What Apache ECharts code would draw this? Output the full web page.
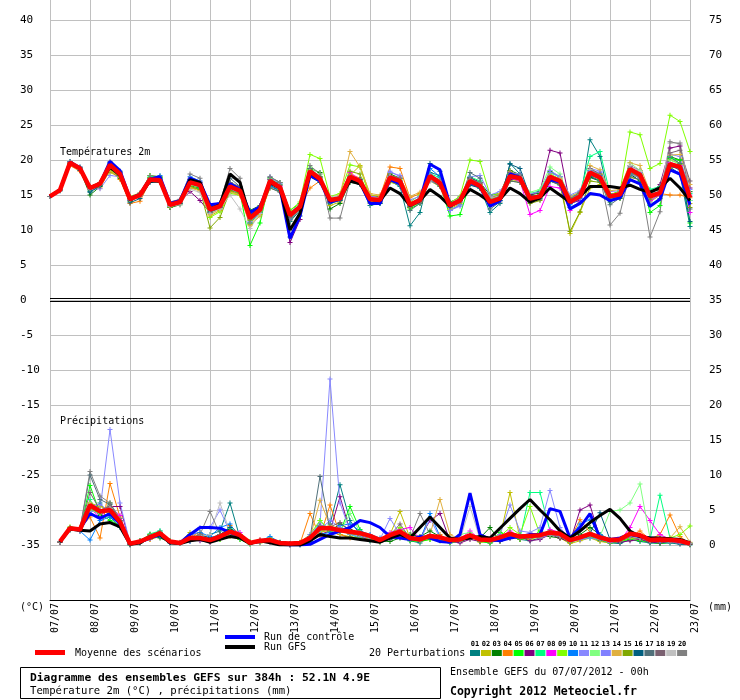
<!DOCTYPE html>
<html>
<head>
<meta charset="utf-8">
<script src="https://cdn.jsdelivr.net/npm/echarts@6/dist/echarts.min.js"></script>
<style>
html, body { margin: 0; padding: 0; background: #fff; }
#main { width: 740px; height: 700px; }
</style>
</head>
<body>
<div id="main"></div>
<script>
// x axis: one tick per day, data every 6 h (0..384 h)
const days = ['07/07', '08/07', '09/07', '10/07', '11/07', '12/07', '13/07', '14/07', '15/07',
  '16/07', '17/07', '18/07', '19/07', '20/07', '21/07', '22/07', '23/07'];
const memberNames = ['01', '02', '03', '04', '05', '06', '07', '08', '09', '10',
  '11', '12', '13', '14', '15', '16', '17', '18', '19', '20'];
const memberColors = ['#008080', '#c0c000', '#008000', '#ff8000', '#00ff00', '#800080', '#00ff80', '#ff00ff', '#80ff00', '#0080ff',
  '#8888ff', '#80ff80', '#8080ff', '#e0b040', '#80a800', '#005f7f', '#50707a', '#7a6070', '#c0c0c0', '#808080'];

// 2m temperature (°C), 65 values from +0h
const tempMean = [14.8,15.7,19.6,18.8, 16.0,16.6,19.3,18.0, 14.4,15.0,17.2,17.1, 13.6,14.0,16.8,16.4, 12.9,13.4,16.2,15.6, 11.7,12.9,17.0,16.1, 12.1,13.3,18.4,17.3, 14.3,14.5,17.6,17.0, 14.4,14.3,17.5,17.0, 13.6,14.3,17.7,16.7, 13.5,14.2,17.0,16.3, 14.0,14.5,17.7,17.4, 14.5,14.8,17.6,17.0, 14.0,14.8,18.2,17.5, 14.8,15.1,18.7,17.9, 14.8,15.3,19.4,19.0, 14.6];
const tempCtrl = [14.8,15.7,19.7,18.9, 16.0,16.6,19.8,18.5, 14.5,15.1,17.3,17.6, 13.8,14.2,17.4,16.8, 13.6,13.8,16.6,15.8, 12.5,13.3,16.8,16.0, 8.8,12.0,17.8,17.0, 14.0,14.4,17.4,16.8, 13.8,13.8,17.2,16.6, 13.6,14.2,19.4,18.6, 13.6,14.2,16.8,16.2, 13.4,14.2,18.0,17.5, 14.2,14.6,17.2,16.8, 13.0,13.8,15.2,15.0, 14.2,14.6,17.2,16.6, 13.4,14.4,18.6,18.0, 13.6];
const tempGfs = [14.8,15.7,19.6,18.8, 16.0,16.6,19.0,17.8, 14.3,15.0,17.0,17.0, 13.6,14.0,17.2,16.8, 13.0,13.6,18.0,16.8, 11.8,13.0,16.8,16.0, 10.0,12.4,18.2,17.2, 14.2,14.6,17.0,16.6, 14.4,14.2,16.0,15.2, 13.5,14.2,15.8,14.8, 13.4,14.2,15.8,15.0, 14.0,14.4,16.0,15.2, 14.0,14.6,16.0,15.0, 14.0,14.8,16.2,16.2, 16.2,16.0,16.4,15.8, 15.4,16.0,17.4,16.0, 14.2];
const tempPert = [
  [14.8,15.6,19.5,18.7, 15.5,16.4,19.0,17.8, 14.2,14.9,17.0,17.1, 13.3,13.8,16.5,16.2, 12.4,13.0,16.8,16.0, 11.0,12.5,16.5,15.8, 11.2,12.8,18.0,17.5, 13.8,14.2,17.2,16.5, 13.5,13.8,17.0,16.2, 10.6,12.5,18.2,17.8, 12.8,13.6,17.5,16.0, 12.5,13.8,19.5,18.0, 14.0,14.5,17.0,16.5, 13.2,14.0,22.9,20.5, 14.0,14.8,18.0,17.0, 13.5,14.5,19.0,18.0, 10.5],
  [14.8,15.8,19.7,18.9, 16.2,16.8,18.2,17.6, 14.8,15.3,17.5,17.3, 14.0,14.3,16.0,15.8, 12.0,12.8,15.5,15.0, 10.8,12.2,16.0,15.5, 11.5,13.0,17.8,17.0, 13.5,14.0,17.8,19.2, 15.0,14.8,16.8,16.5, 13.8,14.6,17.0,16.2, 13.0,13.8,16.5,16.0, 13.8,14.2,17.2,17.0, 14.2,14.6,17.8,17.2, 9.5,12.5,16.0,16.5, 15.0,15.5,17.5,17.2, 14.0,15.0,20.0,19.5, 13.8],
  [14.8,15.7,19.4,18.6, 15.0,16.2,18.5,17.4, 14.1,15.1,17.4,17.5, 13.2,13.6,16.3,16.0, 13.0,13.2,15.6,15.4, 12.8,13.5,17.5,16.8, 12.5,13.6,18.8,18.2, 13.0,13.8,16.8,16.6, 14.6,14.8,18.0,17.4, 13.2,14.0,17.2,16.6, 14.0,14.6,17.5,16.8, 15.0,15.2,18.5,17.9, 15.0,15.3,18.4,17.6, 14.5,15.2,17.5,17.0, 14.2,14.5,18.0,17.0, 15.5,16.0,20.5,20.0, 15.5],
  [14.8,15.7,19.2,18.4, 15.8,16.0,18.6,17.2, 13.8,14.1,17.0,16.8, 13.4,14.0,16.9,16.6, 13.0,13.6,16.0,15.3, 11.5,12.6,16.8,15.8, 12.0,13.2,16.0,17.0, 14.5,14.8,18.0,17.4, 14.2,14.8,19.0,18.8, 14.6,15.2,17.8,16.9, 13.7,14.5,17.2,16.5, 14.2,14.8,18.0,17.6, 14.3,14.9,17.4,17.1, 14.2,15.0,18.5,17.9, 15.2,15.3,18.2,17.6, 14.2,15.2,15.0,15.0, 14.6],
  [14.8,15.8,19.8,18.9, 16.1,16.7,19.0,17.8, 14.5,15.2,17.8,17.4, 13.7,14.2,16.9,16.5, 12.5,13.2,16.0,15.4, 7.8,11.0,17.3,16.5, 12.8,13.8,18.5,17.4, 14.5,14.8,17.5,17.0, 14.0,14.0,17.4,16.9, 13.0,13.8,17.6,16.4, 12.0,12.2,16.7,16.0, 13.5,14.6,17.5,17.2, 14.8,15.0,17.5,16.8, 14.5,15.0,18.0,17.2, 15.0,15.6,18.8,18.2, 12.5,13.5,20.2,20.0, 11.0],
  [14.8,15.7,19.6,18.7, 16.0,16.5,19.2,17.9, 14.3,15.0,17.0,16.9, 13.5,14.0,15.5,14.2, 12.5,13.2,16.2,15.8, 12.0,13.3,17.3,16.4, 8.2,11.5,18.2,17.0, 14.0,14.4,17.5,16.8, 14.5,14.0,17.2,16.8, 13.3,14.0,17.5,16.5, 13.4,14.3,17.4,16.8, 14.0,14.8,17.2,17.3, 15.0,15.5,21.4,21.0, 13.8,14.2,17.8,17.4, 15.0,15.3,19.2,18.5, 15.2,16.5,21.7,22.0, 16.0],
  [14.8,15.6,19.5,18.8, 16.0,16.6,19.4,18.1, 14.5,15.0,17.6,17.6, 13.8,14.2,16.6,16.0, 12.8,13.4,16.5,15.8, 11.0,12.6,17.0,16.0, 12.0,13.1,18.6,17.6, 14.5,14.6,17.8,17.3, 14.8,14.6,17.6,17.0, 13.7,14.5,18.0,17.5, 13.8,14.5,17.6,17.0, 14.2,14.5,18.0,17.2, 15.2,15.6,18.2,17.6, 14.8,15.4,20.5,21.2, 15.2,15.2,18.8,18.0, 15.8,16.2,20.5,19.5, 15.2],
  [14.8,15.7,19.6,18.8, 16.0,16.6,19.3,18.0, 14.4,15.0,17.1,17.2, 13.7,14.1,17.2,16.6, 13.0,13.5,16.4,15.7, 11.8,13.0,17.2,16.2, 12.2,13.4,18.3,17.4, 14.4,14.8,18.2,17.2, 14.8,14.6,17.4,16.8, 13.8,14.4,17.6,16.6, 13.6,14.0,16.8,16.2, 14.2,14.6,17.4,17.0, 12.2,12.8,16.2,16.0, 12.8,14.0,18.2,17.4, 14.6,15.0,18.5,17.6, 14.2,15.0,19.6,19.2, 12.5],
  [14.8,15.8,19.6,18.8, 16.2,16.8,18.6,17.6, 14.6,15.2,17.8,17.6, 13.9,14.2,16.2,15.8, 11.8,12.6,15.2,15.0, 12.0,13.0,16.6,16.0, 12.8,14.0,20.8,20.2, 14.8,15.2,19.3,19.0, 14.5,14.3,17.8,17.2, 14.0,15.0,17.4,16.8, 13.9,14.8,20.0,19.8, 15.0,15.2,18.0,17.6, 14.6,15.0,18.0,17.3, 14.3,15.0,18.6,18.0, 15.0,15.5,24.0,23.6, 18.8,19.5,26.4,25.5, 21.2],
  [14.8,15.7,19.8,19.0, 16.1,16.7,19.6,18.2, 14.4,15.1,17.3,17.8, 13.6,14.0,17.6,17.0, 13.4,13.8,16.4,15.5, 12.0,13.2,16.2,15.6, 11.5,13.0,18.0,17.0, 14.2,14.6,17.4,16.8, 14.3,14.2,17.6,17.4, 13.5,14.2,18.8,17.6, 13.2,14.0,16.6,16.0, 13.8,14.2,17.8,17.6, 14.6,14.8,17.2,16.8, 13.6,14.5,18.5,17.8, 14.4,14.8,18.4,17.6, 14.8,15.5,19.2,18.8, 14.2],
  [14.8,15.6,19.4,18.6, 15.8,15.9,17.8,17.6, 14.2,14.9,17.0,17.0, 13.4,13.9,17.4,16.9, 13.2,13.6,15.8,15.2, 11.2,12.4,16.6,16.0, 11.8,13.2,17.6,17.0, 14.0,14.3,17.0,16.6, 14.0,14.0,18.2,17.8, 13.8,14.6,17.0,16.4, 12.8,13.6,16.6,16.2, 14.8,15.0,18.2,18.0, 15.2,15.4,18.5,17.6, 15.0,15.6,18.8,18.4, 15.5,15.6,19.0,18.2, 14.0,15.2,20.8,20.5, 15.0],
  [14.8,15.7,19.5,18.7, 16.0,16.5,19.0,17.9, 14.4,15.1,17.4,17.2, 13.5,14.0,16.4,16.2, 12.6,13.3,16.0,15.5, 11.4,12.8,17.4,16.6, 12.4,13.5,19.0,18.0, 14.6,14.8,17.2,16.9, 14.1,14.5,17.3,16.6, 13.4,14.2,17.5,16.8, 13.6,14.4,17.2,16.4, 14.4,14.8,17.6,17.4, 15.4,15.8,19.0,18.0, 14.2,15.0,17.8,17.0, 14.5,15.0,19.6,18.5, 14.8,15.6,20.0,19.4, 14.2],
  [14.8,15.7,19.7,18.9, 16.0,16.6,19.5,18.3, 14.5,15.2,17.3,17.2, 13.8,14.2,17.0,16.6, 12.8,13.2,16.6,16.0, 12.2,13.4,17.6,16.6, 12.6,13.6,18.2,17.2, 14.2,14.6,17.6,17.1, 14.8,14.5,18.4,17.6, 14.3,14.8,18.0,17.0, 12.8,13.4,17.6,17.8, 15.0,15.5,17.8,17.4, 14.2,14.6,18.2,17.6, 14.2,15.2,18.4,18.2, 14.4,15.0,18.0,17.4, 14.8,15.2,19.0,18.8, 15.8],
  [14.8,15.7,19.6,18.8, 16.2,16.4,18.4,17.6, 14.6,15.0,17.2,17.0, 13.6,14.0,16.0,15.6, 12.2,13.0,15.4,15.0, 10.6,12.0,16.4,15.8, 12.4,13.6,18.4,17.4, 14.4,15.0,21.2,19.0, 15.2,15.0,17.8,17.4, 14.8,15.4,17.6,17.0, 13.8,14.4,17.0,16.4, 14.5,15.2,18.4,17.6, 14.4,14.8,17.6,17.4, 14.8,15.4,19.2,18.6, 15.6,15.8,19.6,19.2, 15.4,16.0,20.7,20.8, 16.5],
  [14.8,15.7,19.5,18.6, 15.9,16.6,19.0,17.7, 14.4,15.0,17.5,17.4, 13.2,13.8,16.2,15.8, 10.3,11.8,15.6,15.2, 11.4,12.8,16.8,15.8, 12.2,13.4,18.6,17.6, 14.2,14.6,18.4,18.0, 14.0,14.2,17.2,16.6, 13.2,14.0,17.4,16.4, 13.4,14.0,17.0,16.6, 14.6,15.0,17.0,16.8, 13.8,14.2,17.0,16.5, 9.8,12.6,17.0,16.8, 14.4,14.6,18.2,17.6, 14.4,15.4,18.8,19.4, 13.2],
  [14.8,15.7,19.4,18.5, 15.4,16.3,19.6,18.4, 13.9,14.5,16.8,16.9, 13.4,13.8,16.8,16.3, 12.6,13.3,16.6,15.9, 12.4,13.2,16.4,15.6, 9.0,12.0,17.6,16.8, 14.0,14.2,17.6,17.2, 14.4,13.8,17.0,16.6, 13.4,14.2,19.5,18.4, 13.6,14.2,16.4,16.0, 13.6,14.2,19.4,18.8, 14.8,15.0,17.4,16.8, 14.0,14.6,17.6,17.0, 14.6,14.8,18.4,17.8, 15.2,15.4,19.2,18.6, 11.2],
  [14.8,15.7,19.6,18.9, 16.0,16.4,19.0,17.8, 14.3,15.1,17.0,17.0, 13.6,14.0,17.2,16.8, 13.4,13.8,17.4,16.2, 11.8,13.0,16.0,15.4, 12.0,13.2,18.8,17.6, 14.4,14.4,17.4,16.8, 14.6,14.4,17.2,16.6, 12.8,13.8,17.2,16.2, 13.6,14.2,18.2,17.4, 13.0,14.0,17.0,16.8, 14.0,14.4,17.0,16.4, 14.4,15.4,17.8,17.0, 13.6,14.6,17.6,17.2, 14.6,15.0,20.4,19.5, 13.0],
  [14.8,15.7,19.7,18.8, 16.1,16.7,19.2,18.2, 14.5,15.0,17.4,17.2, 13.7,14.1,17.2,16.8, 13.2,13.6,16.8,16.2, 11.6,12.9,17.2,16.4, 11.8,13.0,18.0,17.2, 14.0,14.4,17.4,17.0, 14.2,14.4,17.8,17.4, 13.4,14.2,17.4,16.6, 13.4,14.4,17.4,16.6, 14.4,14.6,18.2,17.8, 14.8,15.0,17.8,17.0, 14.6,15.2,18.8,18.0, 14.8,15.4,19.0,18.0, 15.2,16.0,21.0,21.4, 17.0],
  [14.8,15.7,19.6,18.7, 16.0,16.6,19.3,18.0, 14.4,15.0,17.2,17.2, 13.4,13.6,15.8,15.4, 12.4,13.0,15.0,13.0, 10.2,12.4,16.6,16.0, 12.4,13.6,18.4,17.0, 14.8,14.8,17.6,17.0, 14.6,14.6,17.6,17.0, 13.8,14.4,17.2,16.8, 13.8,14.6,17.0,16.4, 14.6,14.8,17.8,17.6, 14.6,15.0,17.8,17.2, 14.2,14.6,18.6,17.6, 15.0,15.4,19.2,18.4, 15.0,15.6,22.4,22.5, 15.4],
  [14.8,15.7,19.7,19.0, 16.2,16.8,19.8,18.4, 14.6,15.3,17.8,17.6, 14.0,14.4,18.0,17.4, 13.5,13.9,18.8,17.4, 11.0,12.8,17.6,16.8, 11.4,13.0,19.2,18.0, 11.7,11.7,17.0,16.6, 13.8,14.0,17.4,17.0, 13.5,14.0,17.8,17.2, 13.8,14.4,17.2,16.8, 14.4,14.8,18.0,17.6, 14.5,14.8,17.6,16.8, 14.6,15.0,18.0,17.6, 10.7,12.4,18.2,17.4, 9.0,12.6,22.6,22.3, 14.8]
];

// 6-hourly precipitation (mm), 64 values from +6h
const precipMean = [0.5,2.4,2.2,5.7,4.8,5.0,3.3,0.2, 0.5,1.1,1.7,0.5,0.3,1.0,1.0,0.7, 1.2,1.9,1.4,0.3,0.6,0.7,0.3,0.2, 0.3,1.0,2.4,2.4,2.1,1.9,1.7,1.3, 0.7,1.4,1.9,1.0,0.8,1.3,1.1,0.7, 0.8,1.4,0.8,0.7,1.1,1.6,1.2,1.3, 1.4,1.8,1.6,0.7,1.1,1.6,1.1,0.7, 0.8,1.6,1.4,0.7,0.8,0.7,0.6,0.2];
const precipCtrl = [0.5,2.4,2.3,4.5,3.8,4.5,3.0,0.2, 0.4,1.0,1.5,0.4,0.3,1.5,2.5,2.5, 2.4,1.8,1.2,0.3,0.5,0.6,0.1,0.0, 0.0,0.1,0.8,1.5,2.0,2.5,3.5,3.2, 2.5,1.2,1.0,0.8,1.2,1.0,0.5,0.4, 1.5,7.4,1.5,0.8,0.6,1.0,1.2,1.5, 1.5,5.2,4.8,1.0,2.5,4.5,1.0,0.8, 1.0,1.5,1.2,1.0,0.9,0.8,0.6,0.3];
const precipGfs = [0.4,2.3,2.1,2.0,3.0,3.2,2.6,0.1, 0.3,1.2,1.5,0.3,0.2,0.6,0.8,0.4, 0.8,1.2,1.0,0.2,0.6,0.3,0.0,0.0, 0.0,0.6,1.5,1.2,1.0,1.0,0.8,0.6, 0.4,1.0,1.5,1.0,2.5,4.0,2.5,1.0, 0.8,1.0,1.2,1.0,2.4,3.8,5.2,6.5, 5.0,3.6,2.0,1.0,2.0,3.2,4.2,5.1, 3.8,2.0,1.2,1.0,1.0,0.9,0.8,0.3];
const precipPert = [
  [0.4,2.1,2.0,4.5,6.0,4.0,2.5,0.1, 0.6,1.3,2.0,0.5,0.2,0.5,1.0,1.5, 2.0,6.0,1.0,0.2,0.4,0.5,0.2,0.1, 0.0,0.5,1.5,3.0,8.6,3.5,1.5,0.8, 0.5,0.8,1.2,0.6,0.3,1.5,0.8,0.3, 0.5,1.0,0.6,0.3,0.8,1.5,0.8,0.6, 1.0,1.8,1.2,0.4,0.8,1.2,0.6,0.3, 0.2,0.8,0.5,0.3,0.2,0.3,0.1,0.0],
  [0.5,2.5,2.2,6.0,5.5,5.0,3.0,0.2, 0.4,0.8,1.2,0.3,0.4,1.8,0.8,0.5, 0.8,1.2,0.8,0.2,0.3,0.6,0.2,0.0, 0.2,1.2,2.0,1.8,1.5,1.2,1.0,0.8, 0.5,1.5,4.8,1.0,0.5,0.8,0.6,0.4, 0.5,1.2,0.4,0.5,1.2,7.5,1.0,0.8, 1.2,2.0,1.0,0.2,0.6,1.0,0.5,0.3, 0.5,1.0,0.8,0.5,0.4,0.6,0.3,0.1],
  [0.5,2.2,2.4,5.5,4.2,6.0,3.5,0.0, 0.3,1.5,1.0,0.4,0.2,0.8,1.2,0.6, 1.5,2.2,1.5,0.4,0.5,0.8,0.3,0.2, 0.3,0.8,2.5,2.0,3.0,2.2,1.5,1.0, 0.6,0.5,1.0,1.5,1.2,2.0,1.2,0.8, 0.6,1.5,1.0,2.5,0.5,1.0,1.5,1.0, 1.5,1.2,1.0,0.5,1.5,2.5,1.5,0.8, 0.6,1.2,1.0,0.6,0.8,0.5,0.4,0.2],
  [0.4,2.4,2.3,4.0,1.0,8.8,4.0,0.3, 0.4,0.8,1.5,0.6,0.3,1.2,1.8,0.8, 1.0,2.8,1.5,0.2,0.8,0.6,0.3,0.2, 0.2,4.5,1.2,5.7,1.5,1.0,1.2,0.8, 0.4,1.0,1.2,0.8,0.6,1.0,1.5,0.5, 0.8,1.0,0.6,0.4,1.0,1.5,0.8,1.5, 1.0,1.5,1.2,0.8,3.6,1.8,0.8,0.5, 0.8,1.2,2.0,0.8,1.5,4.3,1.2,0.2],
  [0.5,2.3,2.0,8.5,4.5,3.5,2.8,0.2, 0.6,1.2,1.6,0.5,0.2,0.6,0.9,0.6, 0.8,1.5,0.8,0.1,0.5,0.9,0.4,0.1, 0.1,1.0,2.2,2.5,1.8,5.5,2.2,1.0, 0.6,1.2,1.5,0.6,0.5,0.8,0.6,0.4, 0.6,1.0,0.5,0.3,1.8,1.2,0.8,1.0, 2.0,1.5,1.8,0.6,1.0,1.2,0.8,0.3, 0.5,0.8,0.6,0.4,0.2,0.4,0.3,0.1],
  [0.4,2.2,2.1,5.0,4.5,5.5,5.5,0.2, 0.4,1.0,1.4,0.4,0.2,0.8,0.6,0.4, 1.0,1.6,1.2,0.3,0.5,0.4,0.2,0.0, 0.1,0.5,1.5,2.0,6.9,2.0,1.2,0.6, 0.8,1.0,2.0,0.8,1.0,3.5,4.5,0.6, 0.3,0.8,0.5,0.5,0.6,1.0,1.2,0.6, 0.8,1.5,1.0,0.4,5.0,5.7,1.0,0.5, 0.4,0.6,0.8,0.4,0.3,0.5,0.2,0.1],
  [0.5,2.4,2.5,6.5,4.0,4.5,3.5,0.2, 0.5,1.6,2.0,0.5,0.3,1.2,1.0,0.8, 1.2,2.4,1.2,0.4,0.6,0.8,0.3,0.1, 0.2,0.8,3.5,2.0,2.4,1.5,1.0,0.6, 0.4,1.5,1.8,0.8,0.6,1.2,0.8,0.5, 0.8,1.4,1.0,0.6,0.8,1.8,1.0,7.5, 7.5,2.0,1.5,0.6,0.8,1.0,0.8,0.5, 0.6,1.5,1.0,0.8,7.1,1.0,0.5,0.2],
  [0.4,2.3,2.0,5.2,4.0,5.5,4.2,0.1, 0.5,1.0,1.8,0.4,0.3,0.7,0.9,0.5, 1.0,2.0,1.8,0.2,0.7,0.8,0.2,0.1, 0.2,1.2,2.8,2.5,2.2,1.8,1.6,1.2, 0.6,1.8,2.2,2.5,0.8,1.5,1.0,0.6, 0.8,2.0,0.8,0.6,1.2,2.0,1.2,1.0, 1.2,2.2,1.8,0.5,0.8,1.5,1.0,0.4, 0.6,2.5,5.5,3.5,1.5,0.8,0.5,0.2],
  [0.5,2.6,2.4,5.8,5.0,4.6,3.0,0.2, 0.5,1.2,1.8,0.6,0.3,1.0,1.2,0.8, 1.2,1.8,1.5,0.5,0.5,1.0,0.3,0.2, 0.4,1.5,3.5,2.0,2.0,1.6,1.5,1.0, 0.6,1.5,2.5,1.2,0.8,1.5,1.0,0.5, 0.6,1.2,0.6,0.8,1.2,2.5,1.5,5.5, 1.5,1.5,1.2,0.4,1.0,1.5,1.0,0.5, 0.5,1.0,1.0,0.6,0.8,1.0,1.5,2.7],
  [0.5,2.2,2.0,0.7,3.5,4.0,3.0,0.2, 0.4,1.0,1.2,0.3,0.2,1.5,1.8,1.2, 2.5,3.0,1.0,0.3,0.6,1.2,0.4,0.2, 0.2,0.5,1.5,1.8,2.8,3.0,2.0,1.5, 1.0,1.2,1.6,0.8,0.6,4.5,1.2,0.5, 0.6,1.0,0.6,0.5,0.8,1.2,1.0,1.2, 1.5,1.8,1.5,1.0,3.0,3.6,1.5,0.8, 0.6,1.5,1.2,0.6,0.5,0.6,0.4,0.2],
  [0.4,2.3,2.2,4.8,5.0,16.5,6.0,0.3, 0.4,1.0,1.5,0.4,0.2,0.8,2.5,2.5, 5.0,1.8,1.0,0.2,0.5,0.6,0.3,0.1, 0.2,1.5,3.0,23.7,6.0,2.0,1.5,1.2, 0.8,3.8,1.5,1.0,0.8,1.2,0.8,0.6, 0.8,1.5,0.8,0.6,1.5,5.7,2.0,1.8, 2.5,7.8,2.5,0.8,1.0,1.5,1.0,0.6, 0.8,1.2,1.0,0.6,0.6,0.4,0.3,0.2],
  [0.5,2.4,2.2,5.0,4.5,5.2,3.2,0.2, 0.6,1.4,1.8,0.6,0.3,0.8,1.0,0.6, 1.0,1.6,1.2,0.3,0.6,0.7,0.2,0.1, 0.2,0.8,2.0,2.2,1.8,4.5,1.8,1.0, 0.6,1.2,1.6,0.8,0.6,1.2,1.0,0.6, 1.5,1.8,0.8,0.6,1.0,1.5,1.2,1.2, 1.2,1.6,1.5,0.6,1.0,1.8,1.2,4.8, 5.0,6.0,8.7,1.0,0.8,0.6,0.5,0.3],
  [0.5,2.2,2.0,5.5,5.8,4.8,3.0,0.1, 0.4,1.1,1.5,0.5,0.2,0.5,0.8,0.5, 1.2,1.5,1.4,0.3,0.4,0.8,0.2,0.0, 0.1,0.8,2.2,3.5,2.5,1.5,1.2,1.0, 0.5,1.0,1.5,0.8,0.6,3.8,1.0,0.5, 0.6,1.2,0.8,0.5,0.8,1.5,1.0,1.2, 1.0,1.5,1.2,0.5,0.8,1.0,0.8,0.4, 0.6,1.2,1.0,0.5,0.6,0.8,0.4,0.2],
  [0.5,2.5,2.4,6.0,5.0,5.5,3.8,0.2, 0.5,1.2,1.6,0.5,0.3,1.0,1.2,0.7, 1.4,1.8,1.2,0.3,0.5,0.6,0.2,0.1, 0.2,1.0,6.4,2.8,2.2,1.8,1.5,1.2, 0.8,1.5,2.0,1.0,0.8,1.5,6.5,1.5, 0.8,1.0,0.6,0.5,1.0,1.6,1.0,1.2, 1.2,1.5,1.4,0.6,1.0,1.4,0.8,0.6, 0.8,1.4,1.2,0.8,0.8,1.0,2.6,0.4],
  [0.4,2.2,2.1,5.2,4.6,5.0,3.2,0.2, 0.6,1.5,1.8,0.6,0.3,0.8,1.0,0.6, 1.0,1.4,1.2,0.2,0.6,0.8,0.3,0.1, 0.3,1.0,2.5,2.6,2.0,1.6,1.4,1.0, 0.6,1.4,1.8,0.8,0.6,1.2,1.0,0.5, 0.8,1.2,0.6,0.5,1.0,1.8,1.0,1.2, 1.4,1.6,1.4,0.6,1.2,1.5,1.0,0.6, 0.6,1.2,1.0,0.6,0.8,0.8,0.5,0.2],
  [0.5,2.3,2.2,5.5,4.8,5.0,3.4,0.1, 0.5,1.2,1.6,0.5,0.3,0.9,1.5,1.0, 1.5,2.5,1.2,0.3,0.6,0.6,0.2,0.1, 0.2,1.2,2.6,2.2,2.0,1.8,1.6,1.2, 0.7,1.2,1.6,0.9,0.7,1.2,1.0,0.6, 0.8,1.4,0.8,0.6,1.0,1.5,1.2,1.2, 1.2,1.6,1.5,0.6,1.2,1.6,4.6,0.8, 0.6,1.2,1.0,0.5,0.6,0.8,0.4,0.2],
  [0.5,2.4,2.3,10.0,6.5,5.8,3.5,0.2, 0.5,1.3,1.8,0.5,0.2,0.7,1.0,0.6, 1.2,1.7,1.3,0.3,0.5,0.6,0.2,0.1, 0.2,1.0,9.8,2.2,2.0,1.8,1.5,1.0, 0.6,1.3,1.8,0.8,0.6,1.2,0.9,0.5, 0.7,1.3,0.7,0.5,0.9,1.6,1.1,1.3, 1.3,1.7,1.5,0.6,1.1,1.5,1.0,0.6, 0.7,1.3,1.1,0.6,0.7,0.7,0.5,0.2],
  [0.4,2.3,2.2,7.5,5.0,5.5,3.0,0.1, 0.4,1.1,1.5,0.4,0.3,0.8,1.0,0.6, 1.0,1.5,1.2,0.2,0.5,0.7,0.3,0.1, 0.2,0.9,2.5,2.6,3.2,2.0,1.5,1.2, 0.8,1.4,3.0,1.0,0.7,1.2,1.0,0.5, 0.7,1.2,0.7,0.5,1.0,1.5,1.0,1.1, 1.3,1.5,1.3,0.5,1.0,1.4,0.9,0.5, 0.6,1.1,0.9,0.6,0.7,0.6,0.4,0.2],
  [0.5,2.4,2.2,5.8,5.0,5.2,3.4,0.2, 0.5,1.2,1.6,0.5,0.3,0.9,1.2,1.5, 6.0,1.8,1.2,0.3,0.6,0.7,0.2,0.1, 0.2,1.0,2.4,2.4,2.0,1.8,1.5,1.0, 0.6,1.5,1.8,0.9,0.7,1.4,1.0,0.5, 0.7,5.5,0.8,0.6,1.0,1.6,1.2,1.2, 1.3,1.6,1.4,0.6,1.1,1.5,1.0,0.6, 0.7,1.2,1.0,0.6,0.7,0.7,0.5,0.2],
  [0.5,2.5,2.3,10.5,7.0,6.0,3.8,0.2, 0.6,1.4,1.8,0.6,0.3,1.0,1.5,4.8, 1.5,2.0,1.5,0.4,0.6,0.8,0.3,0.1, 0.3,1.2,2.8,2.6,2.2,2.0,1.6,1.2, 0.8,1.5,2.0,1.0,4.5,1.5,1.2,0.6, 0.8,1.5,0.9,0.7,1.2,1.8,1.4,1.4, 1.5,1.8,1.6,0.7,1.2,1.7,1.2,0.7, 0.8,1.4,1.2,0.7,0.8,0.8,0.5,0.3]
];

var myChart = echarts.init(document.getElementById('main'));
const FONT = '"DejaVu Sans Mono"';
// small filled "+" marker
const plus = 'path://M2,0H3V2H5V3H3V5H2V3H0V2H2Z';

function tempData(arr) { return arr.map((v, i) => [i * 6, v]); }
function precipData(arr) { return arr.map((v, i) => [(i + 1) * 6, v]); }

function thinLine(data, color, yIdx) {
  return {
    type: 'line', xAxisIndex: 1, yAxisIndex: yIdx, data: data,
    symbol: plus, symbolSize: 5, silent: true, z: 2,
    lineStyle: { width: 1, color: color }, itemStyle: { color: color },
    emphasis: { disabled: true }, animation: false
  };
}
function thickLine(data, color, width, yIdx, z) {
  return {
    type: 'line', xAxisIndex: 1, yAxisIndex: yIdx, data: data,
    showSymbol: false, silent: true, z: z,
    lineStyle: { width: width, color: color }, itemStyle: { color: color },
    emphasis: { disabled: true }, animation: false
  };
}

const series = [];
tempPert.forEach((arr, k) => series.push(thinLine(tempData(arr), memberColors[k], 1)));
precipPert.forEach((arr, k) => series.push(thinLine(precipData(arr), memberColors[k], 2)));
series.push(thickLine(tempData(tempCtrl), '#0000ff', 3, 1, 3));
series.push(thickLine(precipData(precipCtrl), '#0000ff', 3, 2, 3));
series.push(thickLine(tempData(tempGfs), '#000000', 3, 1, 4));
series.push(thickLine(precipData(precipGfs), '#000000', 3, 2, 4));
const meanT = thickLine(tempData(tempMean), '#ff0000', 4.5, 1, 5);
// double black line at 0
meanT.markLine = {
  silent: true, symbol: 'none', label: { show: false }, animation: false,
  lineStyle: { color: '#000', width: 1, type: 'solid' },
  data: [{ yAxis: 0.25 }, { yAxis: -0.2 }]
};
series.push(meanT);
series.push(thickLine(precipData(precipMean), '#ff0000', 4.5, 2, 5));

function txt(x, y, text, font, align) {
  return { type: 'text', x: x, y: y, silent: true, z: 10,
    style: { text: text, font: font, fill: '#000', align: align || 'left', verticalAlign: 'middle' } };
}
const f10 = '10px ' + FONT;
const graphics = [
  txt(60, 152, 'Températures 2m', f10),
  txt(60, 421, 'Précipitations', f10),
  txt(20, 607, '(°C)', f10),
  txt(708, 607, '(mm)', f10),
  { type: 'rect', shape: { x: 35, y: 650, width: 30, height: 5 }, style: { fill: '#ff0000' }, silent: true },
  txt(75, 653, 'Moyenne des scénarios', f10),
  { type: 'rect', shape: { x: 225, y: 635, width: 30, height: 4 }, style: { fill: '#0000ff' }, silent: true },
  txt(264, 637, 'Run de contrôle', f10),
  { type: 'rect', shape: { x: 225, y: 645, width: 30, height: 4 }, style: { fill: '#000000' }, silent: true },
  txt(264, 647, 'Run GFS', f10),
  txt(369, 653, '20 Perturbations', f10),
  { type: 'rect', shape: { x: 20.5, y: 667.5, width: 420, height: 31 }, style: { fill: '#fff', stroke: '#000', lineWidth: 1 }, silent: true },
  txt(30, 678, 'Diagramme des ensembles GEFS sur 384h : 52.1N 4.9E', 'bold 11.3px ' + FONT),
  txt(30, 691, 'Température 2m (°C) , précipitations (mm)', '10.6px ' + FONT),
  txt(450, 672, 'Ensemble GEFS du 07/07/2012 - 00h', f10),
  txt(450, 692, 'Copyright 2012 Meteociel.fr', 'bold 11.5px ' + FONT)
];
memberColors.forEach((c, k) => {
  graphics.push({ type: 'rect', shape: { x: 470 + k * 10.9, y: 650, width: 10, height: 6 }, style: { fill: c }, silent: true });
  graphics.push({ type: 'text', x: 475 + k * 10.9, y: 644, silent: true,
    style: { text: memberNames[k], font: 'bold 7px ' + FONT, fill: '#000', align: 'center', verticalAlign: 'middle' } });
});

option = {
  animation: false,
  backgroundColor: '#fff',
  grid: [
    { left: 50, top: 0, width: 640, height: 600, containLabel: false, outerBoundsMode: 'none' },
    { left: 50, top: 20, width: 640, height: 525, containLabel: false, outerBoundsMode: 'none' }
  ],
  xAxis: [
    {
      gridIndex: 0, type: 'value', min: 0, max: 384, interval: 24,
      axisLine: { show: true, lineStyle: { color: '#000', width: 1 } },
      axisTick: { show: false },
      splitLine: { show: true, lineStyle: { color: '#c0c0c0', width: 1 } },
      axisLabel: {
        rotate: 90, margin: 3, verticalAlign: 'top', showMinLabel: true, showMaxLabel: true,
        fontFamily: 'DejaVu Sans Mono', fontSize: 10, color: '#000',
        formatter: function (v) { return days[Math.round(v / 24)]; }
      }
    },
    { gridIndex: 1, type: 'value', min: 0, max: 384, show: false }
  ],
  yAxis: [
    { gridIndex: 0, type: 'value', min: 0, max: 1, show: false },
    {
      gridIndex: 1, type: 'value', position: 'left', min: -35, max: 40, interval: 5,
      axisLine: { show: false }, axisTick: { show: false },
      splitLine: { show: true, lineStyle: { color: '#c0c0c0', width: 1 } },
      axisLabel: { margin: 30, align: 'left', fontFamily: 'DejaVu Sans Mono', fontSize: 11, color: '#000' }
    },
    {
      gridIndex: 1, type: 'value', position: 'right', min: 0, max: 75, interval: 5,
      axisLine: { show: false }, axisTick: { show: false }, splitLine: { show: false },
      axisLabel: { margin: 19, align: 'left', fontFamily: 'DejaVu Sans Mono', fontSize: 11, color: '#000' }
    }
  ],
  series: series,
  graphic: graphics
};
myChart.setOption(option);
</script>
</body>
</html>
